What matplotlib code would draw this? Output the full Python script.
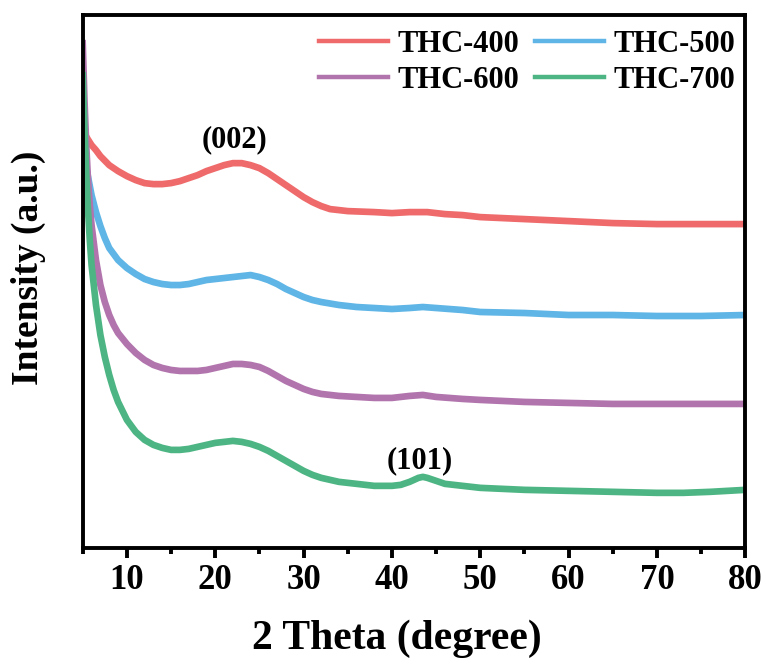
import numpy as np
import matplotlib
matplotlib.use("Agg")
import matplotlib.pyplot as plt
from matplotlib.ticker import MultipleLocator

plt.rcParams["font.family"] = ["Liberation Serif", "DejaVu Serif"]
plt.rcParams["font.weight"] = "bold"

# 2 theta positions (degree) and intensities (a.u.)
theta_400 = [5.0, 5.5, 6, 6.5, 7, 8, 9, 10, 11, 12, 13, 14, 15, 16, 17, 18,
             19, 20, 21, 22, 23, 24, 25, 26, 27, 28, 29, 30, 31, 32, 33, 35,
             38, 40, 42, 44, 46, 48, 50, 55, 60, 65, 70, 75, 80]
thc_400 = [418, 410, 403, 398, 392, 383, 377, 372, 368, 365, 364, 364, 365,
           367, 370, 373, 377, 380, 383, 385, 385, 383, 380, 375, 369, 363,
           357, 351, 346, 342, 339, 337, 336, 335, 336, 336, 334, 333, 331,
           329, 327, 325, 324, 324, 324]

theta_500 = [5.0, 5.5, 6, 6.5, 7, 7.5, 8, 9, 10, 11, 12, 13, 14, 15, 16, 17,
             18, 19, 20, 21, 22, 23, 24, 25, 26, 27, 28, 29, 30, 31, 32, 34,
             36, 38, 40, 42, 43.5, 45, 48, 50, 55, 60, 65, 70, 75, 80]
thc_500 = [405, 376, 353, 336, 322, 310, 300, 288, 280, 274, 269, 266, 264,
           263, 263, 264, 266, 268, 269, 270, 271, 272, 273, 271, 268, 264,
           259, 255, 251, 248, 246, 243, 241, 240, 239, 240, 241, 240, 238,
           236, 235, 233, 233, 232, 232, 233]

theta_600 = [5.0, 5.2, 5.4, 5.6, 5.8, 6, 6.5, 7, 7.5, 8, 8.5, 9, 10, 11, 12,
             13, 14, 15, 16, 17, 18, 19, 20, 21, 22, 23, 24, 25, 26, 27, 28,
             29, 30, 31, 32, 34, 36, 38, 40, 42, 43.5, 45, 48, 50, 55, 60, 65,
             70, 75, 80]
thc_600 = [505, 448, 403, 368, 343, 323, 288, 263, 246, 233, 223, 215, 204,
           195, 188, 183, 180, 178, 177, 177, 177, 178, 180, 182, 184, 184,
           183, 181, 177, 172, 167, 163, 159, 156, 154, 152, 151, 150, 150,
           152, 153, 151, 149, 148, 146, 145, 144, 144, 144, 144]

theta_700 = [5.0, 5.2, 5.4, 5.6, 5.8, 6, 6.5, 7, 7.5, 8, 8.5, 9, 10, 11, 12,
             13, 14, 15, 16, 17, 18, 19, 20, 21, 22, 23, 24, 25, 26, 27, 28,
             29, 30, 31, 32, 34, 36, 38, 40, 41, 42, 43, 43.5, 44, 45, 46, 48,
             50, 55, 60, 65, 70, 73, 76, 80]
thc_700 = [473, 418, 373, 338, 308, 283, 243, 213, 191, 173, 158, 146, 128,
           116, 108, 103, 100, 98, 98, 99, 101, 103, 105, 106, 107, 106, 104,
           101, 97, 92, 87, 82, 77, 73, 70, 66, 64, 62, 62, 63, 66, 70, 71,
           70, 67, 64, 62, 60, 58, 57, 56, 55, 55, 56, 58]

series = [
    ("THC-400", theta_400, thc_400, "#EF6A6B"),
    ("THC-500", theta_500, thc_500, "#5EB5E6"),
    ("THC-600", theta_600, thc_600, "#B174AD"),
    ("THC-700", theta_700, thc_700, "#4DB583"),
]

fig = plt.figure(figsize=(7.66, 6.64), dpi=100)
ax = fig.add_axes([0.108, 0.175, 0.865, 0.802])

handles = {}
for name, x, y, c in series:
    handles[name], = ax.plot(x, y, color=c, lw=4.8, label=name,
                             solid_joinstyle="round")

ax.set_xlim(5, 80)
ax.set_ylim(0, 533)
ax.xaxis.set_major_locator(MultipleLocator(10))
ax.xaxis.set_minor_locator(MultipleLocator(5))
ax.set_yticks([])
for s in ax.spines.values():
    s.set_linewidth(2.8)
ax.tick_params(axis="x", which="major", direction="out", length=7, width=2.8,
               labelsize=25, pad=5)
ax.tick_params(axis="x", which="minor", direction="out", length=4, width=2.8)
for lab in ax.get_xticklabels():
    lab.set_fontweight("bold")

ax.set_xlabel("2 Theta (degree)", fontsize=30, fontweight="bold")
ax.set_ylabel("Intensity (a.u.)", fontsize=27, fontweight="bold")
ax.xaxis.set_label_coords(0.474, -0.135)
ax.yaxis.set_label_coords(-0.056, 0.525)

ax.text(22.2, 408, "(002)", ha="center", va="center", fontsize=22,
        fontweight="bold")
ax.text(43.2, 87, "(101)", ha="center", va="center", fontsize=22,
        fontweight="bold")

order = ["THC-400", "THC-600", "THC-500", "THC-700"]
leg = ax.legend([handles[n] for n in order], order, loc="upper right",
                bbox_to_anchor=(0.985, 0.972), ncol=2, frameon=False,
                handlelength=2.25, columnspacing=0.5, handletextpad=0.33,
                labelspacing=0.22, borderpad=0, borderaxespad=0,
                prop={"weight": "bold", "size": 22})
for ln in leg.get_lines():
    ln.set_linewidth(3.2)

fig.savefig("out.png", dpi=100)
